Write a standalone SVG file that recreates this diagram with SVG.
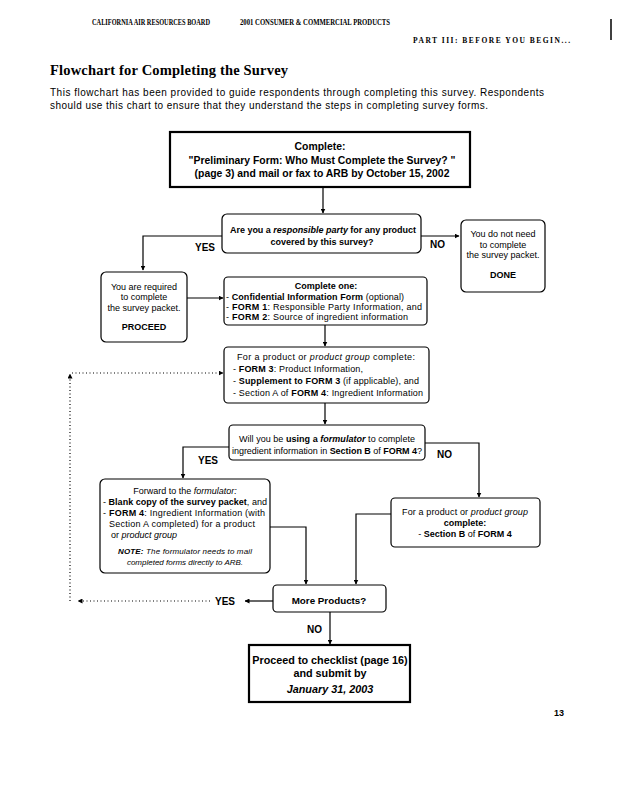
<svg xmlns="http://www.w3.org/2000/svg" width="619" height="800" viewBox="0 0 619 800">
<style>
text{font-family:"Liberation Sans",Arial,sans-serif;fill:#000}
.s{font-size:9px}
.m{font-size:10.4px}
.c{text-anchor:middle}
.b{font-weight:bold}
.i{font-style:italic}
.box{fill:#fff;stroke:#000;stroke-width:1.2}
.thick{fill:#fff;stroke:#000;stroke-width:2.2}
.ln{fill:none;stroke:#000;stroke-width:1.2}
.dot{fill:none;stroke:#000;stroke-width:1.2;stroke-dasharray:1 2.5}
.hd{font-family:"Liberation Serif","Times New Roman",serif;font-weight:bold;font-size:7.5px}
.lbl{font-size:10px;font-weight:bold}
</style>
<defs>
<marker id="ah" viewBox="0 0 10 10" refX="9" refY="5" markerWidth="5" markerHeight="5" orient="auto" markerUnits="userSpaceOnUse">
<path d="M0,0 L10,5 L0,10 z" fill="#000"/>
</marker>
</defs>
<rect width="619" height="800" fill="#fff"/>
<g id="header">
<text class="hd" x="92" y="25" textLength="118" lengthAdjust="spacingAndGlyphs">CALIFORNIA AIR RESOURCES BOARD</text>
<text class="hd" x="240" y="25" textLength="150" lengthAdjust="spacingAndGlyphs">2001 CONSUMER &amp; COMMERCIAL PRODUCTS</text>
<text class="hd" x="413" y="43" textLength="157" style="font-size:7.5px">PART III:  BEFORE YOU BEGIN...</text>
<line x1="611" y1="19" x2="611" y2="40" stroke="#000" stroke-width="1.5"/>
<text x="50" y="75" style="font-family:'Liberation Serif','Times New Roman',serif;font-weight:bold;font-size:14.5px" textLength="238">Flowchart for Completing the Survey</text>
<text style="font-size:10px" x="50" y="96" textLength="494">This flowchart has been provided to guide respondents through completing this survey.  Respondents</text>
<text style="font-size:10px" x="50" y="109" textLength="438">should use this chart to ensure that they understand the steps in completing survey forms.</text>
</g>
<g id="connectors">
<line class="ln" x1="323" y1="187" x2="323" y2="213" marker-end="url(#ah)"/>
<polyline class="ln" points="222,236 143,236 143,270" marker-end="url(#ah)"/>
<line class="ln" x1="421" y1="236" x2="459" y2="236" marker-end="url(#ah)"/>
<line class="ln" x1="187" y1="298" x2="223" y2="298" marker-end="url(#ah)"/>
<line class="ln" x1="325" y1="325" x2="325" y2="346" marker-end="url(#ah)"/>
<line class="ln" x1="325" y1="403" x2="325" y2="424" marker-end="url(#ah)"/>
<polyline class="ln" points="229,447 183,447 183,478" marker-end="url(#ah)"/>
<polyline class="ln" points="425,443 479,443 479,497" marker-end="url(#ah)"/>
<polyline class="ln" points="270,527 306,527 306,584" marker-end="url(#ah)"/>
<polyline class="ln" points="391,514 356,514 356,584" marker-end="url(#ah)"/>
<line class="ln" x1="273" y1="601" x2="245" y2="601" marker-end="url(#ah)"/>
<line class="ln" x1="330" y1="612" x2="330" y2="644" marker-end="url(#ah)"/>
<polyline class="dot" points="210,601 78,601" marker-end="url(#ah)"/>
<polyline class="dot" points="70,601 70,374" marker-end="url(#ah)"/>
<polyline class="dot" points="72,373 223,373" marker-end="url(#ah)"/>
<text class="lbl" x="195" y="251">YES</text>
<text class="lbl" x="430" y="248">NO</text>
<text class="lbl" x="198" y="464">YES</text>
<text class="lbl" x="437" y="458">NO</text>
<text class="lbl" x="215" y="605">YES</text>
<text class="lbl" x="307" y="633">NO</text>
</g>
<g id="start">
<rect class="thick" x="170" y="132" width="300" height="55"/>
<text class="m b c" x="320" y="150">Complete:</text>
<text class="m b c" x="322" y="164">"Preliminary Form:  Who Must Complete the Survey? "</text>
<text class="m b c" x="322" y="177">(page 3) and mail or fax to ARB by October 15, 2002</text>
</g>
<g id="decision1">
<rect class="box" x="222" y="214" width="199" height="39" rx="5"/>
<text class="s b c" x="323" y="233" textLength="186">Are you a <tspan class="i">responsible party</tspan>  for any product</text>
<text class="s b c" x="322" y="245">covered by this survey?</text>
</g>
<g id="done">
<rect class="box" x="461" y="220" width="84" height="72" rx="5"/>
<text class="s c" x="503" y="237">You do not need</text>
<text class="s c" x="503" y="248">to complete</text>
<text class="s c" x="503" y="258">the survey packet.</text>
<text class="s b c" x="503" y="278">DONE</text>
</g>
<g id="required">
<rect class="box" x="101" y="272" width="86" height="70" rx="5"/>
<text class="s c" x="144" y="290">You are required</text>
<text class="s c" x="144" y="300">to complete</text>
<text class="s c" x="144" y="311">the survey packet.</text>
<text class="s b c" x="144" y="330">PROCEED</text>
</g>
<g id="completeone">
<rect class="box" x="224" y="277" width="203" height="48" rx="4"/>
<text class="s b c" x="326" y="289">Complete one:</text>
<text class="s" x="226" y="300" textLength="178">- <tspan class="b">Confidential Information Form</tspan>  (optional)</text>
<text class="s" x="226" y="310" textLength="196">- <tspan class="b">FORM 1</tspan>: Responsible Party Information, and</text>
<text class="s" x="226" y="320" textLength="182">- <tspan class="b">FORM 2</tspan>: Source of ingredient information</text>
</g>
<g id="product">
<rect class="box" x="224" y="347" width="205" height="56" rx="4"/>
<text class="s c" x="326" y="360" textLength="178">For a product or <tspan class="i">product group</tspan> complete:</text>
<text class="s" x="233" y="372" textLength="130">- <tspan class="b">FORM 3</tspan>:  Product Information,</text>
<text class="s" x="233" y="384" textLength="186">- <tspan class="b">Supplement to FORM 3</tspan>  (if applicable), and</text>
<text class="s" x="233" y="396" textLength="190">- Section A of <tspan class="b">FORM 4</tspan>:  Ingredient Information</text>
</g>
<g id="decision2">
<rect class="box" x="229" y="425" width="196" height="35" rx="4"/>
<text class="s c" x="327" y="442" textLength="176">Will you be <tspan class="b">using a </tspan><tspan class="b i">formulator</tspan> to complete</text>
<text class="s c" x="327" y="454" textLength="190">ingredient information in <tspan class="b">Section B</tspan> of <tspan class="b">FORM 4</tspan>?</text>
</g>
<g id="formulator">
<rect class="box" x="100" y="479" width="170" height="94" rx="5"/>
<text class="s c" x="185" y="494">Forward to the <tspan class="i">formulator:</tspan></text>
<text class="s" x="103" y="505" textLength="164">- <tspan class="b">Blank copy of the survey packet</tspan>, and</text>
<text class="s" x="103" y="516" textLength="162">- <tspan class="b">FORM 4</tspan>: Ingredient Information (with</text>
<text class="s" x="109" y="527" textLength="146">Section A completed) for a product</text>
<text class="s" x="111" y="538">or <tspan class="i">product group</tspan></text>
<text class="c i" x="185" y="554" style="font-size:8px" textLength="134"><tspan class="b">NOTE:</tspan> The formulator needs to mail</text>
<text class="c i" x="185" y="565" style="font-size:8px">completed forms directly to ARB.</text>
</g>
<g id="sectionb">
<rect class="box" x="391" y="498" width="149" height="49" rx="4"/>
<text class="s c" x="465" y="515" textLength="126">For a product or <tspan class="i">product group</tspan></text>
<text class="s b c" x="465" y="526">complete:</text>
<text class="s c" x="465" y="537">- <tspan class="b">Section B</tspan> of <tspan class="b">FORM 4</tspan></text>
</g>
<g id="more">
<rect class="box" x="273" y="585" width="113" height="27" rx="4"/>
<text class="b c" x="329" y="604" style="font-size:9.8px">More Products?</text>
</g>
<g id="final">
<rect class="thick" x="249" y="645" width="161" height="57"/>
<text class="b c" x="330" y="664" style="font-size:10.8px">Proceed to checklist (page 16)</text>
<text class="b c" x="330" y="677" style="font-size:10.8px">and submit by</text>
<text class="b i c" x="330" y="693" style="font-size:10.8px">January 31, 2003</text>
</g>
<text class="s b" x="554" y="716">13</text>
</svg>
